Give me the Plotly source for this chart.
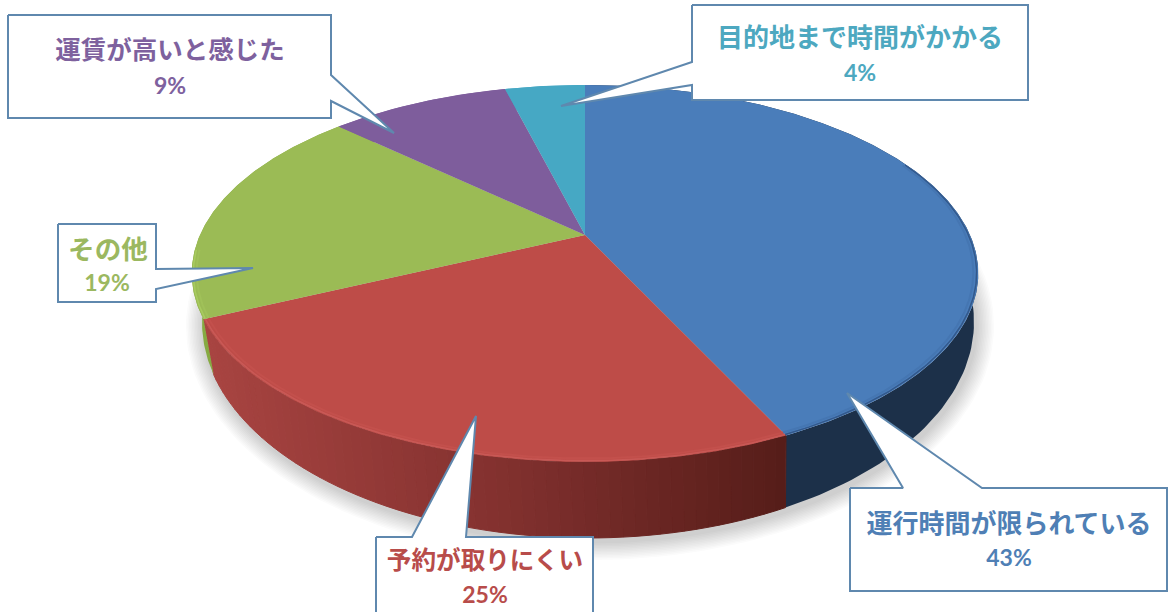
import math
import plotly.graph_objects as go

categories = ["運行時間が限られている", "予約が取りにくい", "その他", "運賃が高いと感じた", "目的地まで時間がかかる"]
values = [43, 25, 19, 9, 4]
top_colors = ["#4A7DBA", "#BE4C48", "#9BBB55", "#7E5D9C", "#46A8C4"]
text_colors = ["#4F7FB5", "#B84C4A", "#9BB860", "#7E619E", "#4DA8C0"]

# Projection of the pie disc on the page (pixels)
CX, CY, A, B, P = 585.0, 235.0, 385.0, 180.6, 0.204
RIM_CX, RIM_CY, RIM_A, RIM_B = 585.0, 273.0, 393.0, 189.0
BASE_CX, BASE_CY, BASE_A, BASE_B = 588.0, 322.0, 386.0, 216.0

BORDER = "#5F88AE"

# label boxes: x0, x1, y0, y1, tail polygon (enter, tip, exit), walk order side
boxes = [
    dict(x0=850, x1=1167, y0=488, y1=591, side="top", tail=[(903, 488), (847, 393), (982, 488)],
         title=(1009, 526, 26), pct=(1009, 560)),
    dict(x0=376, x1=593, y0=537, y1=640, side="top", tail=[(412, 537), (476, 416), (466, 537)],
         title=(485, 563, 24.6), pct=(485, 597)),
    dict(x0=58, x1=156, y0=224, y1=302, side="right", tail=[(156, 269), (253, 268), (156, 289)],
         title=(108, 252, 26.6), pct=(107, 285)),
    dict(x0=8, x1=331, y0=15, y1=118, side="right", tail=[(331, 75), (394, 133), (331, 101)],
         title=(170, 53, 25.5), pct=(170, 88)),
    dict(x0=692, x1=1028, y0=5, y1=100, side="left", tail=[(692, 85), (561, 106), (692, 62)],
         title=(860, 40, 26), pct=(860, 75)),
]


def project(theta, r=1.0):
    X, Y = r * math.sin(theta), -r * math.cos(theta)
    d = 1 - P * Y
    return CX + A * X / d, CY + B * Y / d


def base_of(theta):
    x, y = project(theta)
    t = math.atan2((x - RIM_CX) / RIM_A, (y - RIM_CY) / RIM_B)
    return BASE_CX + BASE_A * math.sin(t), BASE_CY + BASE_B * math.cos(t)


def arc(a0, a1, step=0.01, r=1.0):
    n = max(2, int(abs(a1 - a0) / step))
    return [project(a0 + (a1 - a0) * i / n, r) for i in range(n + 1)]


def mix(c0, c1, f):
    c0 = [int(c0[i:i + 2], 16) for i in (1, 3, 5)]
    c1 = [int(c1[i:i + 2], 16) for i in (1, 3, 5)]
    return "rgb(%d,%d,%d)" % tuple(round(a + (b - a) * f) for a, b in zip(c0, c1))


def poly(pts, fill, line=None, width=0):
    return go.Scatter(x=[p[0] for p in pts] + [pts[0][0]], y=[p[1] for p in pts] + [pts[0][1]],
                      mode="lines", fill="toself", fillcolor=fill,
                      line=dict(color=line or "rgba(0,0,0,0)", width=width),
                      hoverinfo="skip", showlegend=False)


def stroke(pts, color, width):
    return go.Scatter(x=[p[0] for p in pts], y=[p[1] for p in pts], mode="lines",
                      line=dict(color=color, width=width), hoverinfo="skip", showlegend=False)


total = sum(values)
edges = [0.0]
for v in values:
    edges.append(edges[-1] + 2 * math.pi * v / total)

fig = go.Figure()

# soft shadow under the disc
for k in range(12):
    grow = 18 - k * 1.5
    pts = []
    for i in range(181):
        t = 2 * math.pi * i / 180
        pts.append((BASE_CX + 2 + (BASE_A + grow) * math.sin(t), BASE_CY + 4 + (BASE_B + grow) * math.cos(t)))
    fig.add_trace(poly(pts, "rgba(60,60,60,0.018)"))


def wall_color(i, x):
    if i == 0:
        return "#1C3049"
    if i == 1:
        if x < 480:
            return mix("#A84441", "#853230", (x - 205) / 275)
        return mix("#853230", "#581E1A", (x - 480) / 290)
    if i == 2:
        return "#86AA42"
    return top_colors[i]


# side wall, one strip per small arc so the shading can run along it
for i in range(len(values)):
    a0, a1 = edges[i], edges[i + 1]
    n = 60 if i == 1 else 1
    if i != 1:
        pts = arc(a0, a1) + [base_of(a1 - (a1 - a0) * j / 120) for j in range(121)]
        fig.add_trace(poly(pts, wall_color(i, 0)))
    else:
        for j in range(n):
            s0 = a0 + (a1 - a0) * j / n
            s1 = a0 + (a1 - a0) * (j + 1) / n
            c = wall_color(i, project(0.5 * (s0 + s1))[0])
            fig.add_trace(poly([project(s0), project(s1), base_of(s1), base_of(s0)], c, c, 1))

# top surface
for i in range(len(values)):
    pts = [(CX, CY)] + arc(edges[i], edges[i + 1])
    fig.add_trace(poly(pts, top_colors[i]))

# bevel along the visible front of the rim only
span = {0: (0.42, 1.0), 1: (0.0, 1.0), 2: (0.0, 0.3)}
rim_glow = {0: ("#33598C", "#4576B2"), 1: ("#C95956", "#C3504C"), 2: ("#A8CB5F", "#A0C159")}
for i, (outer, inner) in rim_glow.items():
    f0, f1 = span[i]
    s0 = edges[i] + (edges[i + 1] - edges[i]) * f0
    s1 = edges[i] + (edges[i + 1] - edges[i]) * f1
    fig.add_trace(stroke(arc(s0, s1, r=0.996), outer, 1.5))
    fig.add_trace(stroke(arc(s0, s1, r=0.988), inner, 2))


# callouts
def outline(b):
    x0, x1, y0, y1 = b["x0"], b["x1"], b["y0"], b["y1"]
    if b["side"] == "top":
        return [(x0, y0)] + b["tail"] + [(x1, y0), (x1, y1), (x0, y1)]
    if b["side"] == "right":
        return [(x0, y0), (x1, y0)] + b["tail"] + [(x1, y1), (x0, y1)]
    return [(x0, y0), (x1, y0), (x1, y1), (x0, y1)] + b["tail"]


for b in boxes:
    fig.add_trace(poly(outline(b), "#FFFFFF", BORDER, 2))

for name, v, col, b in zip(categories, values, text_colors, boxes):
    tx, ty, size = b["title"]
    fig.add_trace(go.Scatter(x=[tx], y=[ty], mode="text", text=[f"<b>{name}</b>"],
                             textfont=dict(family="Noto Sans CJK JP", size=size, color=col),
                             textposition="middle center", hoverinfo="skip", showlegend=False))
    px, py = b["pct"]
    fig.add_trace(go.Scatter(x=[px], y=[py], mode="text", text=[f"<b>{v}%</b>"],
                             textfont=dict(family="Lato", size=23, color=col),
                             textposition="middle center", hoverinfo="skip", showlegend=False))

fig.update_layout(
    width=1172, height=612, autosize=False,
    margin=dict(l=0, r=0, t=0, b=0),
    paper_bgcolor="#FFFFFF", plot_bgcolor="#FFFFFF", showlegend=False,
    xaxis=dict(range=[0, 1172], visible=False, fixedrange=True),
    yaxis=dict(range=[612, 0], visible=False, fixedrange=True),
)
fig.write_html("out.html", config=dict(displayModeBar=False),
               post_script="document.body.style.margin='0';document.body.style.overflow='hidden';")
